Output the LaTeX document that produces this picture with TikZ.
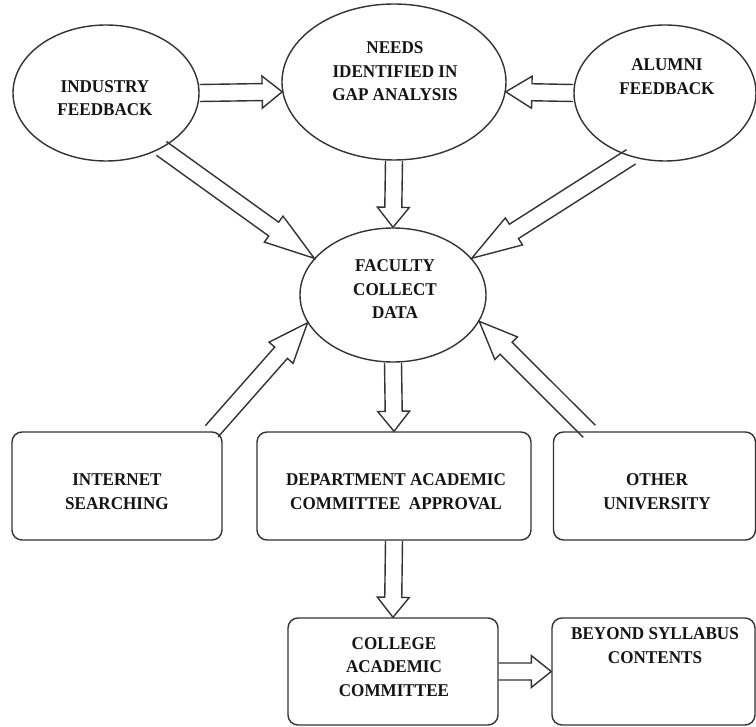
\documentclass[tikz,border=0pt]{standalone}
\usepackage{fontspec}
\setmainfont{Liberation Serif}
\newfontfamily\lblfont[FakeStretch=0.95]{Liberation Serif}
\usetikzlibrary{calc,shapes.geometric}

\tikzset{
  outline/.style={draw=black!80, line width=1.4pt},
  oval/.style={outline, ellipse, inner sep=0pt},
  card/.style={outline, rectangle, rounded corners=10pt, inner sep=0pt},
  lbl/.style={align=center, inner sep=0pt, text=black!92,
              font=\lblfont\fontsize{18}{23.5}\selectfont\bfseries},
  fatarrow/.style={outline, line join=miter},
}

% Hollow block arrow from #2 to #3; optional #1 is the head length (pt).
\newcommand\blockarrow[3][20]{%
  \draw[fatarrow] let \p1=(#2), \p2=(#3),
      \n1={atan2(\y2-\y1,\x2-\x1)},
      \n2={veclen(\x2-\x1,\y2-\y1)-#1} in
    ($(\p1)+(\n1+90:8.5pt)$)
    -- ($(\p1)+(\n1:\n2)+(\n1+90:8.5pt)$)
    -- ($(\p1)+(\n1:\n2)+(\n1+90:16pt)$)
    -- (\p2)
    -- ($(\p1)+(\n1:\n2)+(\n1-90:16pt)$)
    -- ($(\p1)+(\n1:\n2)+(\n1-90:8.5pt)$)
    -- ($(\p1)+(\n1-90:8.5pt)$);
}

\begin{document}
\begin{tikzpicture}[x=1pt, y=-1pt]
  \fill[white] (0,0) rectangle (756,727);
  \useasboundingbox (0,0) rectangle (756,727);

  % top row of ovals
  \node[oval, minimum width=186pt, minimum height=136pt] (ind) at (106,93) {};
  \node[oval, minimum width=224pt, minimum height=156pt] (needs) at (394,82) {};
  \node[oval, minimum width=182pt, minimum height=136pt] (alum) at (665,93) {};
  % central oval
  \node[oval, minimum width=186pt, minimum height=134pt] (fac) at (393,295) {};

  % boxes
  \node[card, minimum width=210pt, minimum height=108pt] (inet) at (117,486) {};
  \node[card, minimum width=274pt, minimum height=108pt] (dept) at (394,486) {};
  \node[card, minimum width=202pt, minimum height=108pt] (oth) at (654.5,486) {};
  \node[card, minimum width=210pt, minimum height=107pt] (coll) at (393,671.5) {};
  \node[card, minimum width=203pt, minimum height=107pt] (beyond) at (653.5,671.5) {};

  % labels
  \node[lbl] (indT) at (105,98) {INDUSTRY\\FEEDBACK};
  \node[lbl] (needsT) at (395,71.5) {NEEDS\\IDENTIFIED IN\\GAP ANALYSIS};
  \node[lbl] (alumT) at (667,76.5) {ALUMNI\\FEEDBACK};
  \node[lbl] (facT) at (395,289.5) {FACULTY\\COLLECT\\DATA};
  \node[lbl] (inetT) at (117,491.5) {INTERNET\\SEARCHING};
  \node[lbl] (deptT) at (396,491.5) {DEPARTMENT ACADEMIC\\COMMITTEE\ \ APPROVAL};
  \node[lbl] (othT) at (657,491.5) {OTHER\\UNIVERSITY};
  \node[lbl] (collT) at (394,667) {COLLEGE\\ACADEMIC\\COMMITTEE};
  \node[lbl] (beyondT) at (655,645.5) {BEYOND SYLLABUS\\CONTENTS};

  % connectors
  \blockarrow{ind.east}{needs.185}
  \blockarrow[26]{alum.west}{needs.-5}
  \blockarrow{needs.south}{fac.north}
  \blockarrow[50]{ind.-45}{fac.155}
  \blockarrow[50]{alum.242}{fac.25}
  \blockarrow[40]{inet.30}{fac.198}
  \blockarrow[38]{oth.140.5}{fac.-17.5}
  \blockarrow{fac.south}{dept.north}
  \blockarrow{dept.south}{coll.north}
  \blockarrow{coll.east}{beyond.west}
\end{tikzpicture}
\end{document}
